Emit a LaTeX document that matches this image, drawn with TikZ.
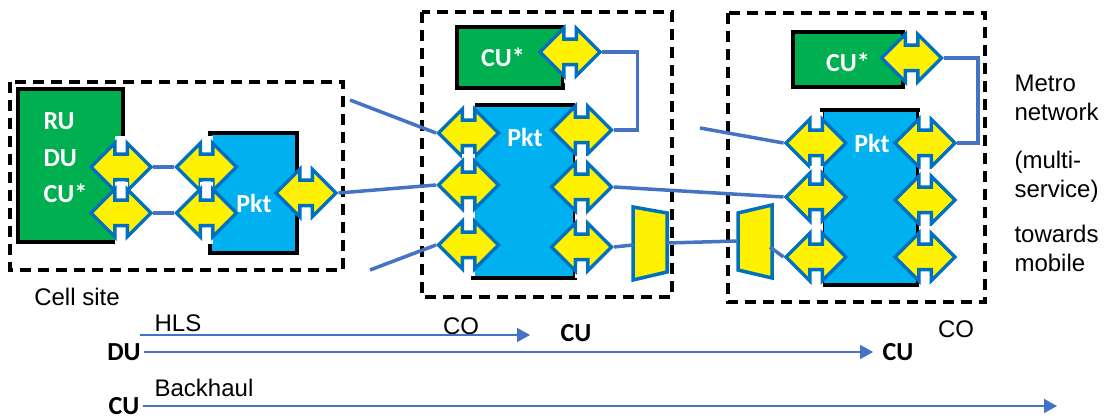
\documentclass[tikz,border=0pt]{standalone}
\usepackage{fontspec}
\setmainfont{Liberation Sans}
\newfontfamily\calibri{Carlito}
\usepackage{tikz}
\usetikzlibrary{shapes.arrows,arrows.meta}
\definecolor{cugreen}{HTML}{00B050}
\definecolor{pktblue}{HTML}{00B0F0}
\definecolor{portblue}{HTML}{0070C0}
\definecolor{linkblue}{HTML}{4472C4}
\tikzset{
  site/.style={draw=black,line width=3.5pt,dash pattern=on 11pt off 7pt},
  unit/.style={draw=black,line width=4.5pt,fill=cugreen,inner sep=0pt},
  pkt/.style={draw=black,line width=4.5pt,fill=pktblue,inner sep=0pt},
  port/.style={shape=double arrow,draw=portblue,fill=yellow,line width=3.5pt,inner xsep=0pt,inner ysep=11pt,
    minimum height=60pt,double arrow head extend=11pt,double arrow tip angle=90},
  mux/.style={draw=portblue,fill=yellow,line width=3.5pt},
  link/.style={draw=linkblue,line width=3.5pt},
  flow/.style={draw=linkblue,line width=1.5pt,-{Triangle[length=13pt,width=14pt]}},
  wlbl/.style={text=white,font=\calibri\bfseries\fontsize{26}{36.5}\selectfont},
  blbl/.style={font=\calibri\bfseries\fontsize{26}{30}\selectfont},
  lbl/.style={font=\fontsize{24}{29}\selectfont}
}
\newcommand{\port}[3]{\fill[white] (#2-6.5,#3-31) rectangle (#2+6.5,#3+31);
  \node[port] (#1) at (#2,#3) {};}

\begin{document}
\begin{tikzpicture}[x=1pt,y=-1pt]
\useasboundingbox (0,0) rectangle (1110,419);
\draw[site] (10,82) rectangle (343,270);
\draw[site] (422,12) rectangle (672,297);
\draw[site] (728,13) rectangle (985,302);

\node[unit,minimum width=105pt,minimum height=153pt] (RU) at (70.5,165.5) {};
\node[pkt,minimum width=87pt,minimum height=120pt] (PK0) at (253.5,193) {};
\node[unit,minimum width=106pt,minimum height=61pt] (CU1) at (510,57.5) {};
\node[pkt,minimum width=102pt,minimum height=173pt] (PK1) at (524,191.5) {};
\node[unit,minimum width=110pt,minimum height=55pt] (CU2) at (848,59.5) {};
\node[pkt,minimum width=96pt,minimum height=175pt] (PK2) at (870,197.5) {};

\node[wlbl,align=left,anchor=west] (RUt) at (40,158) {RU\\DU\\CU*};
\node[wlbl] (CU1t) at (503,57) {CU*};
\node[wlbl] (CU2t) at (848,62) {CU*};

\port{A1}{121}{167}
\port{A2}{121}{213}
\port{B1}{206.5}{167}
\port{B2}{206.5}{213}
\node[port] (C0) at (306,193) {};
\node[wlbl] (P0) at (254,203) {Pkt};

\port{D1}{570}{52}
\port{L1}{468.5}{133}
\port{L2}{468.5}{185}
\port{L3}{468.5}{245}
\port{R1}{581.5}{130}
\port{R2}{581.5}{187}
\port{R3}{581.5}{247}
\node[wlbl] (P1) at (525,137) {Pkt};

\port{D2}{911.5}{58}
\port{K1}{816}{143}
\port{K2}{816}{197}
\port{K3}{816}{257}
\port{S1}{925}{143}
\port{S2}{925}{200}
\port{S3}{925}{257}
\node[wlbl] (P2) at (872,143) {Pkt};

\draw[mux] (633,207) -- (667,213) -- (667,272) -- (633,280) -- cycle;
\draw[mux] (738,213) -- (772,205) -- (772,278) -- (738,270) -- cycle;
\coordinate (M1w) at (633,245);
\coordinate (M1e) at (667,243);
\coordinate (M2w) at (738,241);
\coordinate (M2e) at (770,247);
\coordinate (X1) at (350,100);
\coordinate (X2) at (370,270);
\coordinate (X3) at (700,128);

\path[link] (A1.east) edge (B1.west) (A2.east) edge (B2.west)
(C0.east) edge (L2.west) (X1) edge (L1.west) (X2) edge (L3.west)
(R2.east) edge (K2.west) (R3.east) edge (M1w) (M1e) edge (M2w)
(M2e) edge (K3.west) (X3) edge (K1.west);
\draw[link] (D1.east) -- ++(35,0) |- (R1.east);
\draw[link] (D2.east) -- ++(34,0) |- (S1.east);

\node[lbl] (CS) at (77,297) {Cell site};
\node[lbl,align=left,anchor=west] (MN) at (1011,97.5) {Metro\\network};
\node[lbl,align=left,anchor=west] (MS) at (1011,176.5) {(multi-\\service)};
\node[lbl,align=left,anchor=west] (TM) at (1011,248) {towards\\mobile};

\node[blbl] (DU) at (124,352) {DU};
\node[blbl] (CUa) at (124,406) {CU};
\node[blbl] (CUb) at (576,333) {CU};
\node[blbl] (CUc) at (898,352) {CU};
\node[lbl] (HLS) at (178,323) {HLS};
\node[lbl] (BH) at (204,388) {Backhaul};
\node[lbl] (CO1) at (461,326) {CO};
\node[lbl] (CO2) at (956,329) {CO};
\coordinate (H0) at (140,335);
\coordinate (H1) at (530,335);
\coordinate (BHe) at (1057,406);
\draw[flow] (H0) -- (H1);
\draw[flow,shorten >=6pt] (DU.east) -- (CUc.west);
\draw[flow] (CUa.east) -- (BHe);
\end{tikzpicture}
\end{document}
